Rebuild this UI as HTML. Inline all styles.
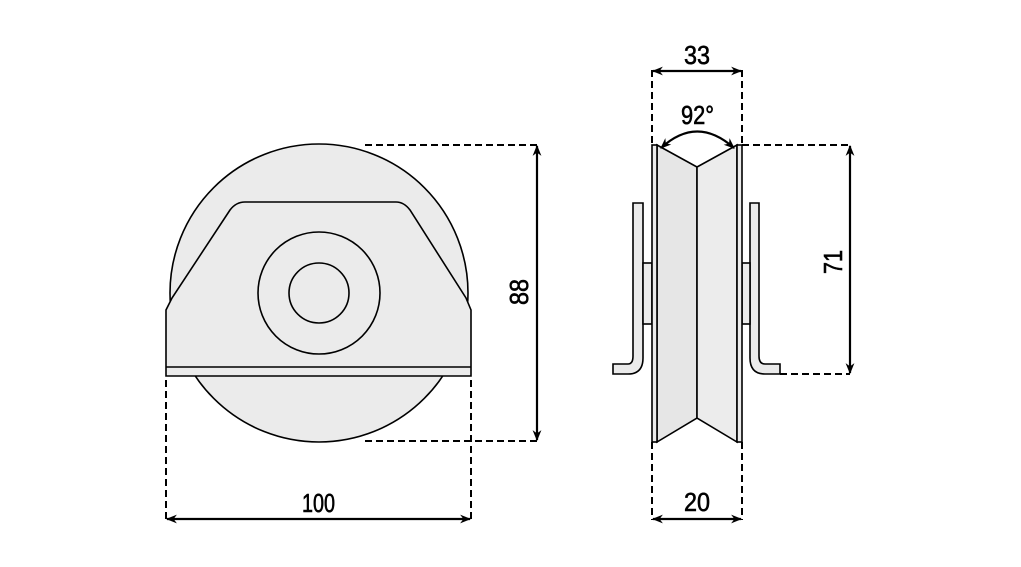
<!DOCTYPE html>
<html><head><meta charset="utf-8"><style>
html,body{margin:0;padding:0;background:#fff}
svg{display:block}
text{font-family:"Liberation Sans Narrow","Liberation Sans",sans-serif;font-size:26px;fill:#000;stroke:#000;stroke-width:0.6}
</style></head><body>
<svg width="1021" height="567" viewBox="0 0 1021 567" xmlns="http://www.w3.org/2000/svg">
<defs>
<marker id="a" viewBox="0 0 10 10" refX="9" refY="5" markerWidth="11" markerHeight="11" markerUnits="userSpaceOnUse" orient="auto-start-reverse">
<path d="M0,1 L10,5 L0,9 L3,5 z" fill="#000"/>
</marker>
</defs>
<g stroke="#000" fill="#ebebeb" stroke-width="1.6">
<circle cx="319" cy="293" r="149"/>
<path d="M166,376 L166,310 L172,298 L230,210 Q236,202 245,202 L396,202 Q404,202 410,210 L466,298 L471,310 L471,376 Z"/>
<line x1="166" y1="367" x2="471" y2="367"/>
<circle cx="319" cy="293" r="61" fill="none"/>
<circle cx="319" cy="293" r="30" fill="none"/>
<path d="M633,203 L643,203 L643,358 Q643,374 628,374 L613,374 L613,364 L628,364 Q633,364 633,356 Z"/>
<path d="M759,203 L750,203 L750,358 Q750,374 765,374 L780,374 L780,364 L765,364 Q759,364 759,356 Z"/>
<rect x="643" y="263" width="9" height="61"/>
<rect x="742" y="263" width="8" height="61"/>
<path d="M657,145 L697,167 L697,418 L657,442 Z" fill="#e6e6e6"/>
<path d="M737,145 L697,167 L697,418 L737,442 Z" fill="#ececec"/>
<rect x="652" y="145" width="5" height="297"/>
<rect x="737" y="145" width="5" height="297"/>
</g>
<g stroke="#000" stroke-width="2" fill="none" stroke-dasharray="7,4">
<line x1="365" y1="145" x2="537" y2="145"/>
<line x1="365" y1="441" x2="537" y2="441"/>
<line x1="166" y1="380" x2="166" y2="520"/>
<line x1="471" y1="380" x2="471" y2="520"/>
<line x1="652" y1="70" x2="652" y2="145"/>
<line x1="742" y1="70" x2="742" y2="145"/>
<line x1="652" y1="442" x2="652" y2="520"/>
<line x1="742" y1="442" x2="742" y2="520"/>
<line x1="742" y1="145" x2="850" y2="145"/>
<line x1="780" y1="374" x2="850" y2="374"/>
</g>
<g stroke="#000" stroke-width="2.2" fill="none">
<line x1="537" y1="146" x2="537" y2="440" marker-start="url(#a)" marker-end="url(#a)"/>
<line x1="167" y1="519" x2="470" y2="519" marker-start="url(#a)" marker-end="url(#a)"/>
<line x1="653" y1="71" x2="741" y2="71" marker-start="url(#a)" marker-end="url(#a)"/>
<line x1="653" y1="519" x2="741" y2="519" marker-start="url(#a)" marker-end="url(#a)"/>
<line x1="850" y1="146" x2="850" y2="373" marker-start="url(#a)" marker-end="url(#a)"/>
<path d="M661,148 Q697,115 734,148" marker-start="url(#a)" marker-end="url(#a)"/>
</g>
<text x="302" y="512" textLength="33" lengthAdjust="spacingAndGlyphs">100</text>
<text x="684" y="64" textLength="26" lengthAdjust="spacingAndGlyphs">33</text>
<text x="681" y="124" textLength="33" lengthAdjust="spacingAndGlyphs">92°</text>
<text x="684" y="511" textLength="26" lengthAdjust="spacingAndGlyphs">20</text>
<text transform="translate(528,305) rotate(-90)" textLength="26" lengthAdjust="spacingAndGlyphs">88</text>
<text transform="translate(842,274) rotate(-90)" textLength="24" lengthAdjust="spacingAndGlyphs">71</text>
</svg>
</body></html>
